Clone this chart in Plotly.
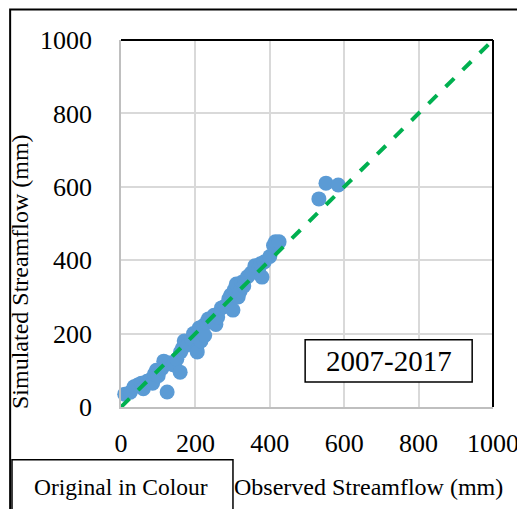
import plotly.graph_objects as go

# observed vs simulated streamflow (mm), 2007-2017
observed = [10, 25, 35, 45, 55, 60, 70, 80, 85, 90, 95, 100, 110, 115, 124, 130, 140, 150, 159,
            160, 165, 170, 180, 190, 195, 204, 205, 210, 215, 220, 225, 230, 235, 245, 250, 255,
            260, 270, 280, 290, 295, 301, 305, 310, 315, 320, 325, 330, 340, 350, 360, 370, 375,
            379, 385, 400, 410, 415, 425, 532, 551, 584]
simulated = [35, 40, 55, 60, 65, 50, 70, 75, 65, 90, 100, 85, 105, 125, 41, 120, 115, 130, 95,
             150, 160, 180, 170, 185, 200, 155, 150, 215, 180, 220, 195, 230, 240, 235, 250, 225,
             245, 270, 275, 295, 305, 264, 320, 335, 300, 315, 340, 330, 355, 365, 385, 375, 390,
             354, 395, 410, 440, 450, 450, 567, 610, 605]
line_x = [0, 1000]
line_y = [0, 1000]
tick_vals = [0, 200, 400, 600, 800, 1000]

serif = "Liberation Serif"

fig = go.Figure()
fig.add_trace(go.Scatter(x=observed, y=simulated, mode="markers",
                         marker=dict(color="#5b9bd5", size=15, line=dict(width=0)),
                         cliponaxis=False, showlegend=False))
fig.add_trace(go.Scatter(x=line_x, y=line_y, mode="lines",
                         line=dict(color="#00b050", width=4, dash="dash"),
                         cliponaxis=False, showlegend=False))

axis_common = dict(range=[0, 1000], tickvals=tick_vals, showgrid=True, gridcolor="#d9d9d9",
                   gridwidth=1.5, zeroline=False, showline=True, linecolor="#bfbfbf",
                   linewidth=1.5, tickfont=dict(family=serif, size=26, color="black"),
                   ticks="outside", ticklen=0, tickcolor="rgba(0,0,0,0)")

# page body adds an 8px offset, so margins are shifted to compensate
fig.update_layout(
    width=525, height=509,
    margin=dict(l=113, r=40, t=32, b=110, autoexpand=False),
    paper_bgcolor="white", plot_bgcolor="white",
    xaxis=dict(**axis_common, ticklabelstandoff=12),
    yaxis=dict(**axis_common, ticklabelstandoff=22),
    font=dict(family=serif, color="black"),
    shapes=[
        # outer frame
        dict(type="rect", xref="paper", yref="paper", x0=-0.298, x1=1.3, y0=-0.5, y1=1.083,
             line=dict(color="black", width=2), layer="below"),
        # top and right plot border
        dict(type="line", xref="paper", yref="paper", x0=0, x1=1, y0=1, y1=1,
             line=dict(color="black", width=2)),
        dict(type="line", xref="paper", yref="paper", x0=1, x1=1, y0=0, y1=1,
             line=dict(color="black", width=2)),
        # period box
        dict(type="rect", xref="paper", yref="paper", x0=0.495, x1=0.944, y0=0.068, y1=0.183,
             line=dict(color="black", width=1.5), fillcolor="white"),
        # "Original in Colour" box
        dict(type="rect", xref="paper", yref="paper", x0=-0.293, x1=0.301, y0=-0.4, y1=-0.144,
             line=dict(color="black", width=1.5), fillcolor="white"),
    ],
    annotations=[
        dict(text="2007-2017", xref="paper", yref="paper", x=0.7195, y=0.1255,
             xanchor="center", yanchor="middle", showarrow=False, font=dict(size=29)),
        dict(text="Original in Colour", xref="paper", yref="paper", x=-0.0, y=-0.218,
             xanchor="center", yanchor="middle", showarrow=False, font=dict(size=23.5)),
        dict(text="Observed Streamflow (mm)", xref="paper", yref="paper", x=0.664, y=-0.218,
             xanchor="center", yanchor="middle", showarrow=False, font=dict(size=24)),
        dict(text="Simulated Streamflow (mm)", xref="paper", yref="paper", x=-0.272, y=0.37,
             xanchor="center", yanchor="middle", textangle=-90, showarrow=False,
             font=dict(size=24)),
    ],
)

fig.write_html("out.html")
